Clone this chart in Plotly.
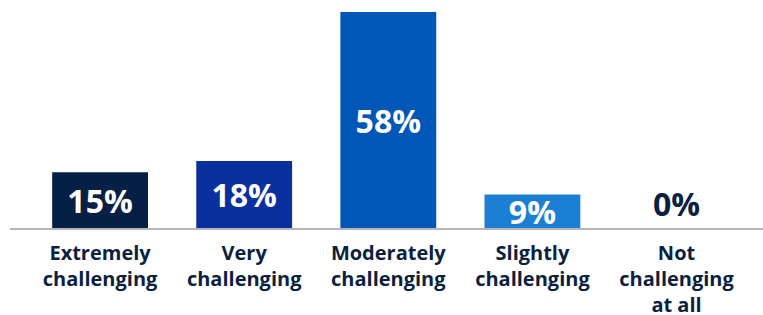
import plotly.graph_objects as go

categories = ["Extremely<br>challenging", "Very<br>challenging", "Moderately<br>challenging",
              "Slightly<br>challenging", "Not<br>challenging<br>at all"]
values = [15, 18, 58, 9, 0]
value_labels = ["15%", "18%", "58%", "9%", "0%"]
colors = ["#061F45", "#0A2F9F", "#0057B8", "#1B7FD4", "#061F45"]

fig = go.Figure(go.Bar(
    x=categories, y=values, text=value_labels,
    marker=dict(color=colors, line=dict(width=0)),
    width=0.665,
    textposition=["inside", "inside", "inside", "inside", "outside"],
    insidetextanchor="middle",
    textfont=dict(family="Open Sans", size=32, color=["white"] * 4 + ["#0B1F40"], weight="bold"),
    constraintext="none",
    cliponaxis=False,
    hoverinfo="skip",
))

fig.update_layout(
    width=763, height=315,
    margin=dict(l=10, r=0, t=12, b=87),
    plot_bgcolor="white", paper_bgcolor="white",
    showlegend=False,
    bargap=0.335,
    uniformtext=dict(mode=False),
)
fig.update_xaxes(
    range=[-0.625, 4.6],
    automargin=False,
    showline=True, linecolor="#B5B5B5", linewidth=2,
    ticks="", showgrid=False,
    ticklabelstandoff=6,
    tickfont=dict(family="Open Sans", size=20, color="#0B1F40", weight="bold"),
)
fig.update_yaxes(range=[0, 58], visible=False, showgrid=False, zeroline=False, automargin=False)

fig.write_html("out.html", config={"displayModeBar": False},
               post_script="document.body.style.margin='0';")
